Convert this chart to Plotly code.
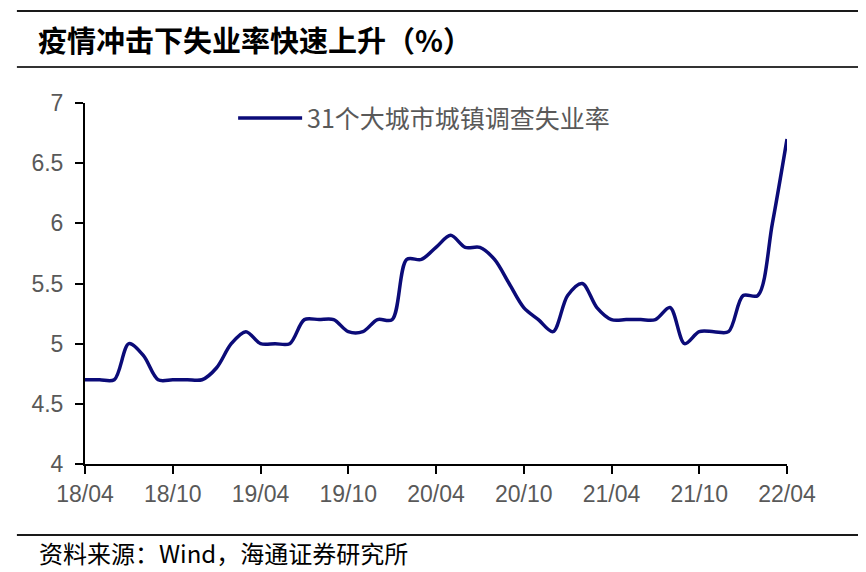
import plotly.graph_objects as go

# Monthly data 2018/04 .. 2022/04
months = []
y, m = 2018, 4
for _ in range(49):
    months.append(f"{y % 100:02d}/{m:02d}")
    m += 1
    if m > 12:
        m = 1
        y += 1

unemployment = [
    4.7, 4.7, 4.7, 5.0, 4.9, 4.7, 4.7, 4.7, 4.7, 4.8, 5.0, 5.1,   # 18/04-19/03
    5.0, 5.0, 5.0, 5.2, 5.2, 5.2, 5.1, 5.1, 5.2, 5.2, 5.7, 5.7,   # 19/04-20/03
    5.8, 5.9, 5.8, 5.8, 5.7, 5.5, 5.3, 5.2, 5.1, 5.4, 5.5, 5.3,   # 20/04-21/03
    5.2, 5.2, 5.2, 5.2, 5.3, 5.0, 5.1, 5.1, 5.1, 5.4, 5.4, 6.0,   # 21/04-22/03
    6.7,                                                          # 22/04
]

tick_labels = ["18/04", "18/10", "19/04", "19/10", "20/04", "20/10", "21/04", "21/10", "22/04"]
y_ticks = [4, 4.5, 5, 5.5, 6, 6.5, 7]

series_name = "31个大城市城镇调查失业率"
title_text = "疫情冲击下失业率快速上升（%）"
source_text = "资料来源：Wind，海通证券研究所"

x_idx = list(range(len(months)))
tick_idx = [months.index(t) for t in tick_labels]

fig = go.Figure()
fig.add_trace(go.Scatter(
    x=x_idx, y=unemployment, mode="lines", name=series_name,
    line=dict(color="#0b0b78", width=3.5, shape="spline", smoothing=0.9),
))

tick_font = dict(family="Liberation Sans, Arial, sans-serif", size=23, color="#595959")
cjk = "Noto Sans CJK SC, sans-serif"
fig.update_layout(
    width=858, height=564,
    margin=dict(l=77, r=79, t=95, b=108),
    paper_bgcolor="white", plot_bgcolor="white",
    showlegend=True,
    legend=dict(x=0.211, y=0.958, xanchor="left", yanchor="middle",
                font=dict(family=cjk, size=25, color="#595959"),
                bgcolor="rgba(0,0,0,0)", itemwidth=64),
    xaxis=dict(
        range=[0, 48], tickmode="array", tickvals=tick_idx, ticktext=tick_labels,
        showgrid=False, zeroline=False, showline=True, linecolor="black", linewidth=2,
        ticks="outside", ticklen=8, tickwidth=2, tickcolor="black",
        tickfont=tick_font,
    ),
    yaxis=dict(
        range=[4, 7], tickmode="array", tickvals=y_ticks,
        ticktext=[f"{v:g}" for v in y_ticks],
        showgrid=False, zeroline=False, showline=True, linecolor="black", linewidth=2,
        ticks="outside", ticklen=8, tickwidth=2, tickcolor="black",
        tickfont=tick_font, ticklabelstandoff=7,
    ),
    shapes=[
        dict(type="line", xref="paper", yref="paper", x0=-0.097, x1=1.104, y0=1.2548, y1=1.2548,
             line=dict(color="#1a1a1a", width=2)),
        dict(type="line", xref="paper", yref="paper", x0=-0.097, x1=1.104, y0=1.0997, y1=1.0997,
             line=dict(color="#333333", width=2)),
        dict(type="line", xref="paper", yref="paper", x0=-0.097, x1=1.104, y0=-0.1967, y1=-0.1967,
             line=dict(color="#1a1a1a", width=2)),
    ],
    annotations=[
        dict(text=title_text, xref="paper", yref="paper", x=-0.0698, y=1.176,
             xanchor="left", yanchor="middle", showarrow=False,
             font=dict(family=cjk, size=29, color="black", weight="bold")),
        dict(text=source_text, xref="paper", yref="paper", x=-0.0684, y=-0.2438,
             xanchor="left", yanchor="middle", showarrow=False,
             font=dict(family=cjk, size=24, color="black")),
    ],
)

fig.write_html("out.html")
